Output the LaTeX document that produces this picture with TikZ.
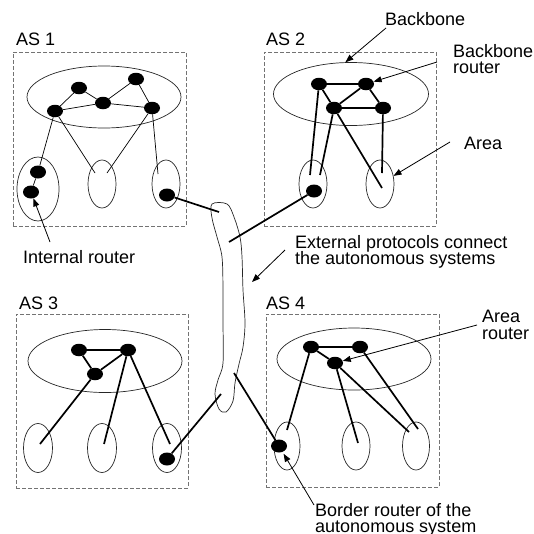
\documentclass[tikz,border=0pt]{standalone}
\usepackage{fontspec}
\setmainfont{Liberation Sans}
\usetikzlibrary{shapes.geometric,arrows.meta}

\tikzset{
  asbox/.style={rectangle, draw=black!55, line width=0.8pt, dash pattern=on 4pt off 2pt, inner sep=0pt},
  backbone/.style={ellipse, draw=black!85, line width=0.7pt, inner sep=0pt},
  area/.style={ellipse, draw=black!85, line width=0.7pt, inner sep=0pt, minimum width=28pt, minimum height=48pt},
  rtr/.style={ellipse, fill=black, inner sep=0pt, minimum width=16pt, minimum height=12.5pt},
  thinlink/.style={draw=black, line width=0.7pt},
  thicklink/.style={draw=black, line width=1.7pt},
  lbl/.style={anchor=base west, inner sep=0pt, font=\fontsize{18}{16}\selectfont},
  pointer/.style={draw=black, line width=0.8pt, -{Triangle[length=8pt,width=6pt]}},
}

\begin{document}
\begin{tikzpicture}[x=1pt,y=-1pt]
\useasboundingbox (0,0) rectangle (534,533);

% ---------- autonomous system frames ----------
\node[asbox, minimum width=173pt, minimum height=174pt] (as1box) at (99.5,139) {};
\node[asbox, minimum width=172pt, minimum height=174pt] (as2box) at (350,139) {};
\node[asbox, minimum width=172pt, minimum height=174pt] (as3box) at (102,401) {};
\node[asbox, minimum width=173pt, minimum height=173pt] (as4box) at (352.5,400.5) {};

\node[lbl] (as1lbl) at (16,45) {AS 1};
\node[lbl] (as2lbl) at (266,45) {AS 2};
\node[lbl] (as3lbl) at (19,309) {AS 3};
\node[lbl] (as4lbl) at (266,309) {AS 4};

% ---------- backbones ----------
\node[backbone, minimum width=154pt, minimum height=62pt] (bb1) at (104,97) {};
\node[backbone, minimum width=155pt, minimum height=63pt] (bb2) at (351,94) {};
\node[backbone, minimum width=154pt, minimum height=63pt] (bb3) at (105,361) {};
\node[backbone, minimum width=154pt, minimum height=62pt] (bb4) at (354,359) {};

% ---------- areas ----------
\node[area, minimum width=42pt, minimum height=64pt] (a1l) at (38,189) {};
\node[area] (a1m) at (102,184) {};
\node[area] (a1r) at (166,184) {};
\node[area] (a2l) at (313,184) {};
\node[area] (a2r) at (380,184) {};
\node[area, minimum width=29pt, minimum height=49pt] (a3l) at (38,448) {};
\node[area, minimum width=29pt, minimum height=49pt] (a3m) at (102,448) {};
\node[area, minimum width=29pt, minimum height=49pt] (a3r) at (167,448) {};
\node[area, minimum width=26pt] (a4l) at (287,446) {};
\node[area] (a4m) at (356,446) {};
\node[area, minimum width=27pt] (a4r) at (416,446) {};

% ---------- inter-AS medium ----------
\draw[black!85, line width=0.7pt] plot[smooth cycle, tension=0.55] coordinates {
  (212,204) (227,204) (234,217) (240,237) (242,257) (243,290) (245,323)
  (243,347) (239,364) (235,383) (233,401) (226,412) (219,409) (215,394)
  (218,380) (223,363) (223,323) (223,290) (222,257) (217,237) (212,218)};

\coordinate (ext1) at (219,212);
\coordinate (ext2) at (229,242);
\coordinate (ext3) at (221,394);
\coordinate (ext4) at (234,373);

% ---------- AS 1 ----------
\node[rtr] (n1) at (79,88) {};
\node[rtr] (n2) at (136,79) {};
\node[rtr] (n3) at (103,103) {};
\node[rtr] (n4) at (55,111) {};
\node[rtr] (n5) at (152,108) {};
\node[rtr, minimum height=13pt] (i1) at (38,172) {};
\node[rtr, minimum height=13pt] (i2) at (31,192) {};
\node[rtr, minimum height=13pt] (e1) at (167,195) {};
\coordinate (m1a) at (95,173);
\coordinate (m1b) at (107,173);
\coordinate (r1a) at (158,174);

\path[thinlink] (n4) -- (n1) (n1) -- (n3) (n3) -- (n2) (n4) -- (n3)
  (n3) -- (n5) (n2) -- (n5) (n4) -- (i1) (i1) -- (i2)
  (n4) -- (m1a) (n5) -- (m1b) (n5) -- (r1a);
\path[thicklink] (e1) -- (ext1);

% ---------- AS 2 ----------
\node[rtr] (a) at (319,84) {};
\node[rtr] (b) at (366,84) {};
\node[rtr] (c) at (334,108) {};
\node[rtr] (d) at (383,108) {};
\node[rtr, minimum height=13pt] (e2) at (314,191) {};
\coordinate (l2a) at (310,175);
\coordinate (l2b) at (320,175);
\coordinate (r2a) at (382,188);
\coordinate (r2b) at (382,173);

\path[thicklink] (a) -- (b) (b) -- (c) (c) -- (d) (b) -- (d)
  (a) -- (c) (c) -- (r2a) (a) -- (l2a) (c) -- (l2b) (d) -- (r2b)
  (e2) -- (ext2);

% ---------- AS 3 ----------
\node[rtr] (p) at (79,350) {};
\node[rtr] (q) at (128,350) {};
\node[rtr] (r) at (95,374) {};
\node[rtr, minimum height=13pt] (e3) at (167,459) {};
\coordinate (l3a) at (40,444);
\coordinate (m3a) at (104,444);
\coordinate (r3a) at (170,444);

\path[thicklink] (p) -- (q) (p) -- (r) (r) -- (q)
  (r) -- (l3a) (q) -- (m3a) (q) -- (r3a) (e3) -- (ext3);

% ---------- AS 4 ----------
\node[rtr] (u) at (311,347) {};
\node[rtr] (v) at (360,347) {};
\node[rtr] (w) at (335,363) {};
\node[rtr, minimum height=13pt] (e4) at (279,446) {};
\coordinate (l4a) at (287,430);
\coordinate (m4a) at (358,443);
\coordinate (r4a) at (409,432);
\coordinate (r4b) at (418,429);

\path[thicklink] (u) -- (v) (u) -- (w) (u) -- (l4a) (w) -- (m4a)
  (w) -- (r4a) (v) -- (r4b) (e4) -- (ext4);

% ---------- labels and pointers ----------
\node[lbl] (tbb) at (385,25) {Backbone};
\coordinate (tbbp) at (386,28);
\draw[pointer] (tbbp) -- (bb2.100);

\node[lbl] (tbr1) at (453,57) {Backbone};
\node[lbl] (tbr2) at (453,73) {router};
\coordinate (tbrp) at (437,62);
\draw[pointer] (tbrp) -- (b);

\node[lbl] (tarea) at (464,149) {Area};
\coordinate (tareap) at (450,142);
\draw[pointer] (tareap) -- (a2r);

\node[lbl] (tint) at (23,263) {Internal router};
\coordinate (tintp) at (50,242);
\draw[pointer] (tintp) -- (i2);

\node[lbl] (text1) at (295,248) {External protocols connect};
\node[lbl] (text2) at (295,264) {the autonomous systems};
\coordinate (textp) at (285,250);
\coordinate (textt) at (252,282);
\draw[pointer] (textp) -- (textt);

\node[lbl] (tar1) at (482,322) {Area};
\node[lbl] (tar2) at (482,339) {router};
\coordinate (tarp) at (477,325);
\draw[pointer] (tarp) -- (w);

\node[lbl] (tbd1) at (315,516) {Border router of the};
\node[lbl] (tbd2) at (315,532) {autonomous system};
\coordinate (tbdp) at (314,505);
\draw[pointer, shorten >=2pt] (tbdp) -- (e4);

\end{tikzpicture}
\end{document}
